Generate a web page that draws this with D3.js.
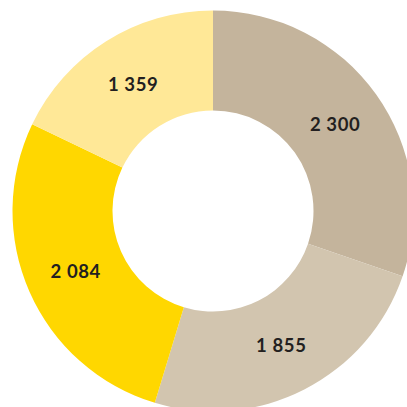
<!DOCTYPE html>
<html>
<head>
<meta charset="utf-8">
<script src="https://cdn.jsdelivr.net/npm/d3@7"></script>
<style>
  html, body { margin: 0; padding: 0; background: #ffffff; }
  svg { display: block; }
</style>
</head>
<body>
<svg id="chart" width="407" height="407"></svg>
<script>
// Segment values, clockwise from 12 o'clock
const categories = ["A", "B", "C", "D"];
const values = [2300, 1855, 2084, 1359];
const labels = ["2 300", "1 855", "2 084", "1 359"];
const colors = ["#C4B49C", "#D2C5AF", "#FFD700", "#FFE897"];

const width = 407, height = 407;
const cx = 213, cy = 211;
const outerR = 200.5, innerR = 100.5;

const data = categories.map((c, i) => ({ key: c, value: values[i], label: labels[i], color: colors[i] }));

const pie = d3.pie().value(d => d.value).sort(null).startAngle(0).endAngle(2 * Math.PI);
const arc = d3.arc().innerRadius(innerR).outerRadius(outerR);
const labelArc = d3.arc().innerRadius(150).outerRadius(150);

const svg = d3.select("#chart");
const g = svg.append("g").attr("transform", `translate(${cx},${cy})`);

const arcs = pie(data);

g.selectAll("path.slice")
  .data(arcs)
  .join("path")
  .attr("class", "slice")
  .attr("d", arc)
  .attr("fill", d => d.data.color);

g.selectAll("text.val")
  .data(arcs)
  .join("text")
  .attr("class", "val")
  .attr("transform", d => `translate(${labelArc.centroid(d)})`)
  .attr("text-anchor", "middle")
  .attr("dominant-baseline", "central")
  .style("font-family", "Lato, 'Open Sans', sans-serif")
  .style("font-weight", "700")
  .style("font-size", "18.5px")
  .style("letter-spacing", "0.6px")
  .style("fill", "#231F20")
  .text(d => d.data.label);
</script>
</body>
</html>
